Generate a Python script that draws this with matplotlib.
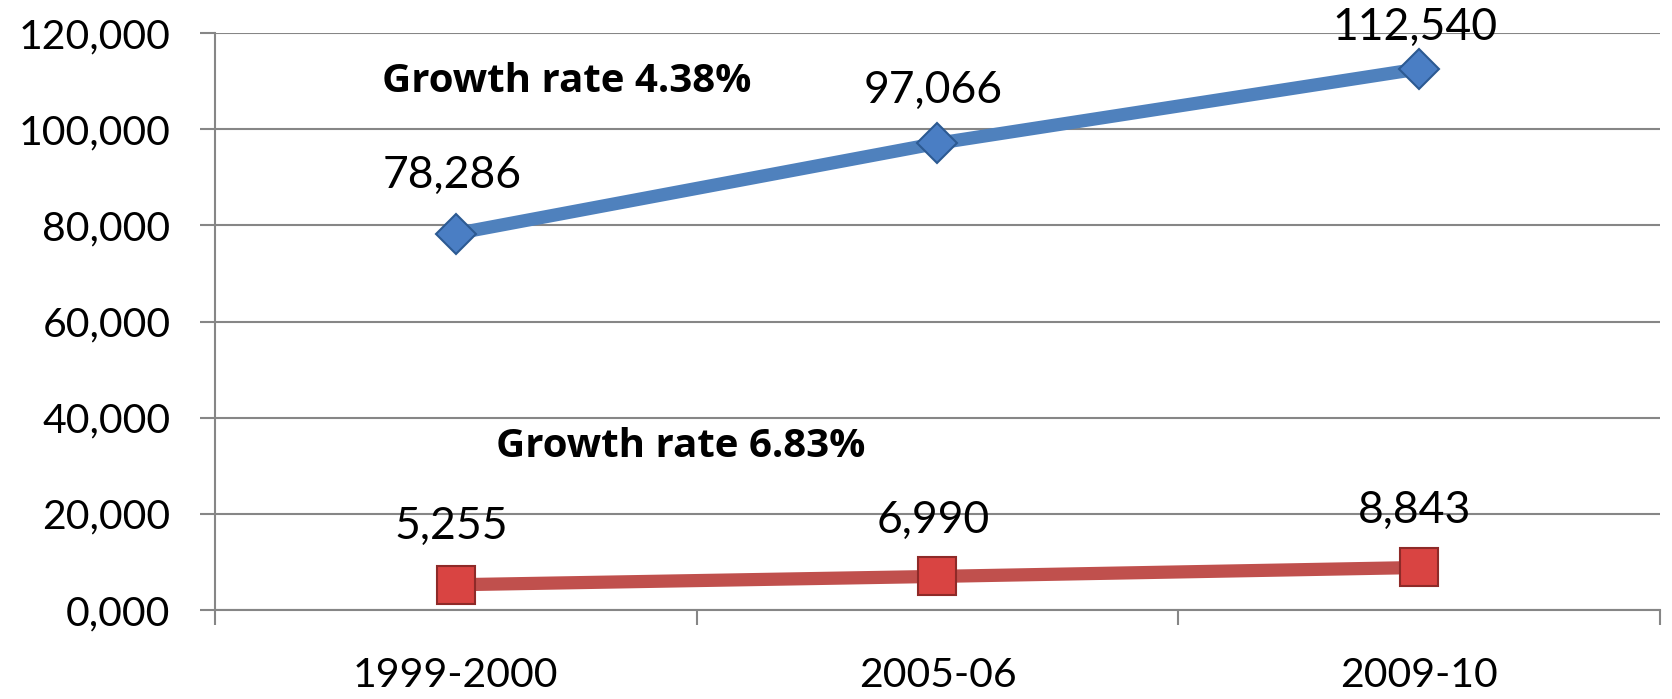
import matplotlib
matplotlib.use("Agg")
import matplotlib.pyplot as plt
from matplotlib.ticker import FixedLocator

# Werte je Zeitraum
periods = ["1999-2000", "2005-06", "2009-10"]
series_a = [78286, 97066, 112540]
series_b = [5255, 6990, 8843]
growth_a = "Growth rate 4.38%"
growth_b = "Growth rate 6.83%"
y_ticks = [0, 20000, 40000, 60000, 80000, 100000, 120000]
y_tick_labels = ["0,000", "20,000", "40,000", "60,000", "80,000", "100,000", "120,000"]

plt.rcParams["font.family"] = ["Lato", "DejaVu Sans"]

fig = plt.figure(figsize=(16.72, 6.99), dpi=100)
ax = fig.add_axes([0.1286, 0.1273, 0.8642, 0.8255])

x = list(range(len(periods)))

ax.plot(x, series_a, color="#4f81bd", lw=9.5, solid_capstyle="butt", zorder=3,
        marker="D", markersize=20, markerfacecolor="#4a7ec4",
        markeredgecolor="#2c5a92", markeredgewidth=1.5)
ax.plot(x, series_b, color="#c0504d", lw=9.5, solid_capstyle="butt", zorder=3,
        marker="s", markersize=27, markerfacecolor="#d94442",
        markeredgecolor="#8e2a28", markeredgewidth=1.5)

# Datenbeschriftungen über den Punkten
offsets_a = [42, 38, 30]
offsets_b = [42, 40, 41]
for xi, v, off in zip(x, series_a, offsets_a):
    ax.annotate(f"{v:,}", (xi, v), xytext=(-3, off), textcoords="offset points",
                ha="center", va="center", fontsize=32, zorder=4)
for xi, v, off in zip(x, series_b, offsets_b):
    ax.annotate(f"{v:,}", (xi, v), xytext=(-3, off), textcoords="offset points",
                ha="center", va="center", fontsize=32, zorder=4)

ax.text(-0.153, 110000, growth_a, fontsize=29, fontweight="bold", va="center", ha="left",
        family=["Open Sans", "DejaVu Sans"])
ax.text(0.083, 34100, growth_b, fontsize=29, fontweight="bold", va="center", ha="left",
        family=["Open Sans", "DejaVu Sans"])

ax.set_xlim(-0.5, len(periods) - 0.5)
ax.set_ylim(0, 120000)

ax.set_yticks(y_ticks)
ax.set_yticklabels(y_tick_labels, fontsize=29.5)
ax.tick_params(axis="y", length=11, width=1.5, color="#868686", pad=21)

ax.set_xticks(x)
ax.set_xticklabels(periods, fontsize=29.5)
ax.tick_params(axis="x", which="major", length=0, pad=34)
ax.xaxis.set_minor_locator(FixedLocator([i - 0.5 for i in range(len(periods) + 1)]))
ax.tick_params(axis="x", which="minor", length=11, width=1.5, color="#868686")

ax.grid(axis="y", color="#868686", lw=1.5)
ax.set_axisbelow(True)
for side in ["top", "right"]:
    ax.spines[side].set_visible(False)
for side in ["left", "bottom"]:
    ax.spines[side].set_color("#868686")
    ax.spines[side].set_linewidth(1.5)

for lbl in ax.get_xticklabels() + ax.get_yticklabels():
    lbl.set_clip_on(False)

fig.savefig("out.png", dpi=100)
